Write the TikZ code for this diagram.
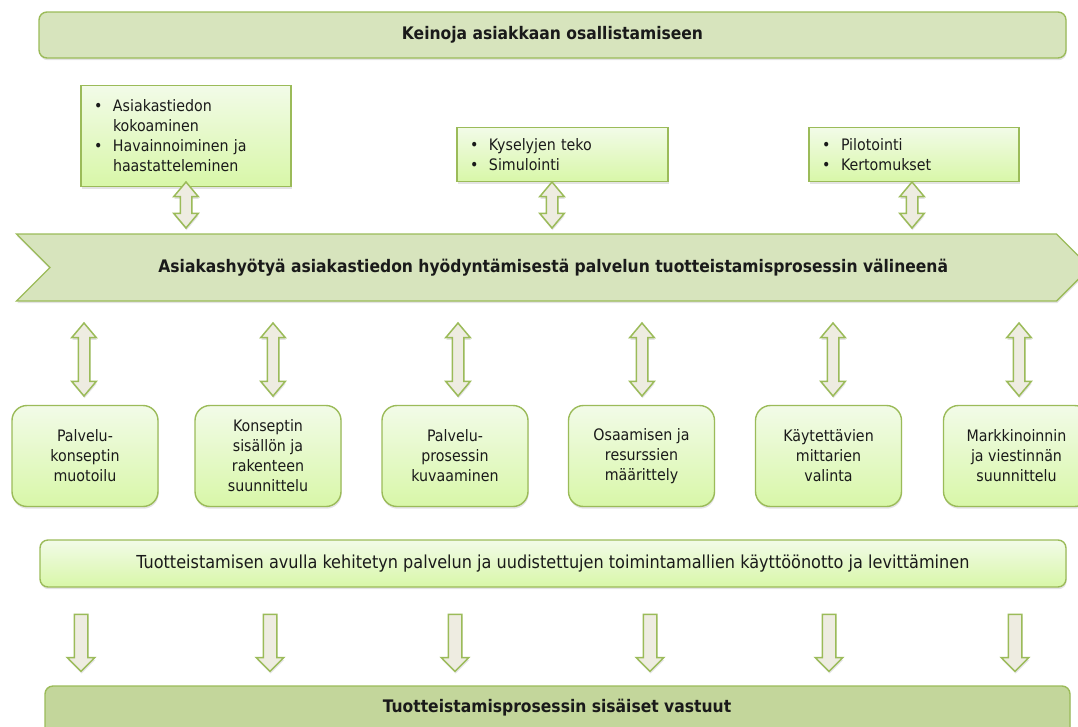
\documentclass[tikz,border=0pt]{standalone}
\usepackage{fontspec}
\setmainfont{DejaVu Sans Condensed}
\usetikzlibrary{shapes.arrows,shapes.symbols,shadows}

\definecolor{olive}{HTML}{9BBB59}
\definecolor{paleolive}{HTML}{D7E4BD}
\definecolor{midolive}{HTML}{C3D69B}
\definecolor{lighttop}{HTML}{F2FBE8}
\definecolor{lightbot}{HTML}{D8F7A8}
\definecolor{arrowfill}{HTML}{EEECE1}
\definecolor{ink}{HTML}{1A1A1A}

% bullet helpers for the list boxes
\newcommand{\bl}{\makebox[19pt][l]{\textbullet}}
\newcommand{\bc}{\hspace*{19pt}}

\tikzset{
  softshadow/.style={drop shadow={opacity=0.22, shadow xshift=0.6pt, shadow yshift=-2.2pt}},
  normaltext/.style={font=\fontsize{15.8}{20}\selectfont, text=ink},
  boldtext/.style={font=\bfseries\fontsize{17.3}{21}\selectfont, text=ink},
  bar/.style={draw=olive, line width=1.4pt, rounded corners=8pt, fill=paleolive,
    softshadow, boldtext, inner sep=0pt},
  gradbar/.style={draw=olive, line width=1.4pt, rounded corners=8pt,
    top color=lighttop, bottom color=lightbot, softshadow,
    font=\fontsize{17.9}{21}\selectfont, text=ink, inner sep=0pt},
  listbox/.style={draw=olive, line width=1.2pt, top color=lighttop, bottom color=lightbot,
    softshadow, normaltext, align=left, inner xsep=13pt, inner ysep=0pt},
  stepbox/.style={draw=olive, line width=1.4pt, rounded corners=15pt,
    top color=lighttop, bottom color=lightbot, softshadow, normaltext, align=center,
    minimum width=146pt, minimum height=101pt, inner sep=0pt},
  band/.style={signal, signal from=west, signal to=east, signal pointer angle=90,
    draw=olive, line width=1.4pt, fill=paleolive, softshadow, boldtext, inner sep=0pt},
  dblarrow/.style={double arrow, rotate=90, draw=olive, line width=1.5pt, fill=arrowfill,
    softshadow, inner xsep=0pt, inner ysep=5pt, double arrow head extend=6.5pt,
    double arrow tip angle=80},
  downarrow/.style={single arrow, rotate=-90, draw=olive, line width=1.5pt, fill=arrowfill,
    softshadow, inner xsep=0pt, inner ysep=6pt, single arrow head extend=7pt,
    single arrow tip angle=90, minimum height=57pt},
}

\begin{document}
\begin{tikzpicture}[x=1pt, y=-1pt]
  \useasboundingbox (0,0) rectangle (1078,726);
  \clip (0,0) rectangle (1078,726);

  % heading
  \node[bar, minimum width=1027pt, minimum height=46pt] (title) at (552.5,35)
    {Keinoja asiakkaan osallistamiseen};

  % participation methods
  \node[listbox, minimum width=210pt, minimum height=101pt, text width=184pt] (m1) at (186,136)
    {\bl Asiakastiedon\\ \bc kokoaminen\\ \bl Havainnoiminen ja\\ \bc haastatteleminen};
  \node[listbox, minimum width=211pt, minimum height=54pt, text width=185pt] (m2) at (562.5,154.5)
    {\bl Kyselyjen teko\\ \bl Simulointi};
  \node[listbox, minimum width=210pt, minimum height=54pt, text width=184pt] (m3) at (914,154.5)
    {\bl Pilotointi\\ \bl Kertomukset};

  % arrows between methods and the main band
  \node[dblarrow, minimum height=46pt] (u1) at (186,205) {};
  \node[dblarrow, minimum height=46pt] (u2) at (552,205) {};
  \node[dblarrow, minimum height=46pt] (u3) at (912,205) {};

  % main band
  \node[band, minimum width=1073.5pt, minimum height=67pt] (band) at (553.25,267.5)
    {Asiakashyötyä asiakastiedon hyödyntämisestä palvelun tuotteistamisprosessin välineenä};

  % arrows between the band and the steps
  \foreach \x [count=\i] in {84,273,458,642,833,1019}
    \node[dblarrow, minimum height=73pt] (d\i) at (\x,359.5) {};

  % productisation steps
  \node[stepbox] (s1) at (85,456)    {Palvelu-\\konseptin\\muotoilu};
  \node[stepbox] (s2) at (268,456)   {Konseptin\\sisällön ja\\rakenteen\\suunnittelu};
  \node[stepbox] (s3) at (455,456)   {Palvelu-\\prosessin\\kuvaaminen};
  \node[stepbox] (s4) at (641.5,456) {Osaamisen ja\\resurssien\\määrittely};
  \node[stepbox] (s5) at (828.5,456) {Käytettävien\\mittarien\\valinta};
  \node[stepbox] (s6) at (1016.5,456){Markkinoinnin\\ja viestinnän\\suunnittelu};

  % deployment bar
  \node[gradbar, minimum width=1026pt, minimum height=47pt] (deploy) at (553,563.5)
    {Tuotteistamisen avulla kehitetyn palvelun ja uudistettujen toimintamallien käyttöönotto ja levittäminen};

  % downward arrows
  \foreach \x [count=\i] in {81,270,455,650,829,1015}
    \node[downarrow] (a\i) at (\x,639.5) {};

  % internal responsibilities bar
  \node[bar, fill=midolive, minimum width=1025pt, minimum height=60pt] (resp) at (557.5,716) {};
  \node[boldtext] (resptext) at (557,708) {Tuotteistamisprosessin sisäiset vastuut};
\end{tikzpicture}
\end{document}
